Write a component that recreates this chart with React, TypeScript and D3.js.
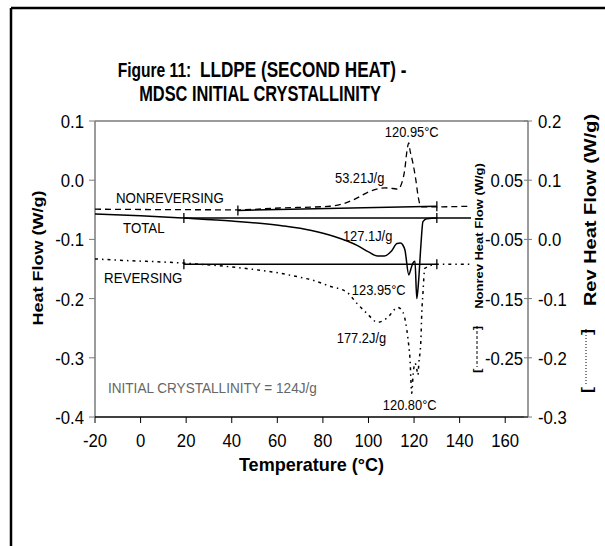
import React from 'react';
import * as d3 from 'd3';

// total heat flow, W/g (left axis)
const totalCurve: [number, number][] = [
  [-20, -0.057], [0, -0.06], [19, -0.064], [40, -0.069], [62, -0.077], [75, -0.085],
  [85, -0.095], [95, -0.11], [100, -0.121], [104, -0.128], [107, -0.128], [110, -0.12],
  [112.5, -0.107], [114, -0.106], [115, -0.109], [116, -0.118], [117.7, -0.16], [118.6, -0.15],
  [119.5, -0.14], [120.4, -0.137], [121.2, -0.2], [122, -0.17], [123, -0.11], [123.9, -0.07],
  [125.6, -0.065], [130, -0.064], [145, -0.064],
];
// nonreversing heat flow, W/g (inner right axis)
const nonrevCurve: [number, number][] = [
  [-20, 0.001], [42.7, 0.0], [61, 0.003], [83, 0.006], [88.8, 0.01], [94, 0.018],
  [100.6, 0.031], [107.2, 0.037], [110.7, 0.036], [112.9, 0.035], [114.6, 0.045], [116, 0.07],
  [116.8, 0.097], [117.7, 0.113], [118.2, 0.101], [119.5, 0.079], [120.8, 0.05], [121.7, 0.025],
  [122.5, 0.01], [123.4, 0.005], [130, 0.005], [144.5, 0.006],
];
// reversing heat flow, W/g (outer right axis)
const revCurve: [number, number][] = [
  [-20, -0.033], [-10.4, -0.035], [18.6, -0.04], [48, -0.05], [61, -0.057], [70, -0.064],
  [75.6, -0.069], [83, -0.079], [90.5, -0.089], [94.9, -0.108], [99.3, -0.125], [104.1, -0.14],
  [108.1, -0.133], [112.9, -0.115], [115.1, -0.123], [116.4, -0.142], [117.3, -0.167], [118.2, -0.201],
  [119, -0.26], [119.5, -0.233], [120.4, -0.209], [121.2, -0.219], [121.7, -0.229], [122.1, -0.209],
  [123, -0.17], [123.4, -0.123], [123.9, -0.091], [124.7, -0.049], [130, -0.042], [144.5, -0.042],
];
// integration baselines
const totalBase: [number, number][] = [[19, -0.064], [130, -0.064]];
const nonrevBase: [number, number][] = [[42.7, -0.001], [130, 0.006]];
const revBase: [number, number][] = [[19, -0.042], [130, -0.042]];

const xTicks = [-20, 0, 20, 40, 60, 80, 100, 120, 140, 160];
const leftTicks = [0.1, 0.0, -0.1, -0.2, -0.3, -0.4];
const leftTickLabels = ['0.1', '0.0', '-0.1', '-0.2', '-0.3', '-0.4'];
const revTicks = [0.2, 0.1, 0.0, -0.1, -0.2, -0.3];
const revTickLabels = ['0.2', '0.1', '0.0', '-0.1', '-0.2', '-0.3'];
const nonrevTicks = [0.05, -0.05, -0.15, -0.25];
const nonrevTickLabels = ['0.05', '-0.05', '-0.15', '-0.25'];

const FONT = '"Liberation Sans", Arial, sans-serif';

function Label({ x, y, size, children, bold = false, anchor = 'start', sx = 0.85, rot = false, fill = '#000' }: any) {
  return (
    <text
      transform={`translate(${x},${y}) scale(${sx},1)${rot ? ' rotate(-90)' : ''}`}
      fontSize={size}
      fontWeight={bold ? 'bold' : 'normal'}
      textAnchor={anchor}
      fill={fill}
      fontFamily={FONT}
      style={{ whiteSpace: 'pre' }}
    >
      {children}
    </text>
  );
}

export default function App() {
  const margin = { top: 121, right: 77, bottom: 129, left: 95 };
  const width = 605;
  const height = 546;
  const x0 = margin.left;
  const x1 = width - margin.right;
  const y0 = height - margin.bottom;
  const y1 = margin.top;

  const x = d3.scaleLinear().domain([-20, 170]).range([x0, x1]);
  const yLeft = d3.scaleLinear().domain([-0.4, 0.1]).range([y0, y1]);
  const yNonrev = d3.scaleLinear().domain([-0.35, 0.15]).range([y0, y1]);
  const yRev = d3.scaleLinear().domain([-0.3, 0.2]).range([y0, y1]);

  const lineOn = (ys: d3.ScaleLinear<number, number>, curve = d3.curveMonotoneX) =>
    d3.line<[number, number]>().x((d) => x(d[0])).y((d) => ys(d[1])).curve(curve);

  const baseTicks = (data: [number, number][], ys: d3.ScaleLinear<number, number>) =>
    data.map((d, i) => (
      <line key={i} x1={x(d[0])} x2={x(d[0])} y1={ys(d[1]) - 5} y2={ys(d[1]) + 5} stroke="#000" strokeWidth={1.3} />
    ));

  const gray = '#7a7a7a';
  const tickSize = 19;

  return (
    <svg width={width} height={height} style={{ position: 'absolute', left: 0, top: 0, background: '#fff' }}>
      {/* frame */}
      <line x1={11} x2={width} y1={8} y2={8} stroke="#000" strokeWidth={2.5} />
      <line x1={11} x2={11} y1={8} y2={height} stroke="#000" strokeWidth={2.5} />

      {/* title */}
      <text transform="translate(262,77) scale(0.78,1)" textAnchor="middle" fontFamily={FONT} fontWeight="bold" style={{ whiteSpace: 'pre' }}>
        <tspan fontSize={20}>Figure 11:  </tspan>
        <tspan fontSize={22}>LLDPE (SECOND HEAT) -</tspan>
      </text>
      <Label x={260} y={101} size={22} bold anchor="middle" sx={0.745}>MDSC INITIAL CRYSTALLINITY</Label>

      {/* plot frame */}
      <line x1={x0} x2={x1} y1={y1} y2={y1} stroke={gray} strokeWidth={1.5} />
      <line x1={x0} x2={x0} y1={y1} y2={y0} stroke={gray} strokeWidth={1.5} />
      <line x1={x1} x2={x1} y1={y1} y2={y0} stroke={gray} strokeWidth={1.5} />
      <line x1={x0} x2={x1} y1={y0} y2={y0} stroke="#000" strokeWidth={1.5} />

      {/* x axis */}
      {xTicks.map((t) => (
        <g key={t}>
          <line x1={x(t)} x2={x(t)} y1={y0} y2={y0 + 6} stroke="#000" strokeWidth={1} />
          <Label x={x(t)} y={y0 + 30} size={tickSize} anchor="middle" sx={0.88}>{String(t)}</Label>
        </g>
      ))}
      <Label x={(x0 + x1) / 2} y={471} size={19} bold anchor="middle" sx={0.95}>Temperature (°C)</Label>

      {/* left axis */}
      {leftTicks.map((t, i) => (
        <g key={t}>
          <line x1={x0 - 6} x2={x0} y1={yLeft(t)} y2={yLeft(t)} stroke={gray} strokeWidth={1} />
          <Label x={x0 - 11} y={yLeft(t) + 7} size={tickSize} anchor="end" sx={0.88}>{leftTickLabels[i]}</Label>
        </g>
      ))}
      <Label x={43} y={258} size={18} bold anchor="middle" rot sx={0.85}>Heat Flow (W/g)</Label>

      {/* right axis: rev ticks */}
      {revTicks.map((t, i) => (
        <g key={t}>
          <line x1={x1 - 4} x2={x1 + 4} y1={yRev(t)} y2={yRev(t)} stroke={gray} strokeWidth={1} />
          <Label x={x1 + 10} y={yRev(t) + 7} size={tickSize} anchor="start" sx={0.88}>{revTickLabels[i]}</Label>
        </g>
      ))}
      {nonrevTicks.map((t, i) => (
        <Label key={t} x={x1 - 5} y={yNonrev(t) + 7} size={tickSize} anchor="end" sx={0.88}>{nonrevTickLabels[i]}</Label>
      ))}
      <Label x={483} y={236} size={13} bold anchor="middle" rot sx={0.82}>Nonrev Heat Flow (W/g)</Label>
      <Label x={596} y={210} size={20} bold anchor="middle" rot sx={0.8}>Rev Heat Flow (W/g)</Label>

      {/* legend brackets */}
      <Label x={481} y={373} size={13} bold anchor="start" rot sx={0.82}>[</Label>
      <Label x={481} y={326} size={13} bold anchor="end" rot sx={0.82}>]</Label>
      <line x1={477} x2={477} y1={326} y2={367} stroke="#000" strokeWidth={1} strokeDasharray="3,2" />
      <Label x={592} y={393} size={18} bold anchor="start" rot sx={0.8}>[</Label>
      <Label x={592} y={329} size={18} bold anchor="end" rot sx={0.8}>]</Label>
      <line x1={586} x2={586} y1={329} y2={386} stroke="#000" strokeWidth={1} strokeDasharray="1,2" />

      {/* baselines */}
      <path d={lineOn(yNonrev, d3.curveLinear)(nonrevBase) || ''} fill="none" stroke="#000" strokeWidth={1.5} />
      <path d={lineOn(yLeft, d3.curveLinear)(totalBase) || ''} fill="none" stroke="#000" strokeWidth={1.5} />
      <path d={lineOn(yRev, d3.curveLinear)(revBase) || ''} fill="none" stroke="#000" strokeWidth={1.5} />
      {baseTicks(nonrevBase, yNonrev)}
      {baseTicks(totalBase, yLeft)}
      {baseTicks(revBase, yRev)}

      {/* curves */}
      <path d={lineOn(yNonrev)(nonrevCurve) || ''} fill="none" stroke="#000" strokeWidth={1.3} strokeDasharray="6,4" />
      <path d={lineOn(yLeft)(totalCurve) || ''} fill="none" stroke="#000" strokeWidth={1.5} />
      <path d={lineOn(yRev)(revCurve) || ''} fill="none" stroke="#000" strokeWidth={1.5} strokeDasharray="3,4,1.5,4" />

      {/* annotations */}
      <Label x={x(119)} y={yLeft(0.0726)} size={14} anchor="middle" sx={0.92}>120.95°C</Label>
      <Label x={x(85.3)} y={yLeft(-0.005)} size={14} sx={0.92}>53.21J/g</Label>
      <Label x={x(88.8)} y={yLeft(-0.103)} size={14} sx={0.92}>127.1J/g</Label>
      <Label x={x(92.7)} y={yLeft(-0.194)} size={14} sx={0.92}>123.95°C</Label>
      <Label x={x(86.1)} y={yLeft(-0.275)} size={14} sx={0.92}>177.2J/g</Label>
      <Label x={x(106.3)} y={yLeft(-0.389)} size={14} sx={0.92}>120.80°C</Label>
      <Label x={x(-10.8)} y={yLeft(-0.039)} size={14} sx={0.95}>NONREVERSING</Label>
      <Label x={x(-7.7)} y={yLeft(-0.0895)} size={14} sx={0.95}>TOTAL</Label>
      <Label x={x(-16)} y={yLeft(-0.174)} size={14} sx={0.95}>REVERSING</Label>
      <Label x={x(-14.3)} y={yLeft(-0.36)} size={14} sx={0.97} fill="#666">INITIAL CRYSTALLINITY = 124J/g</Label>
    </svg>
  );
}
